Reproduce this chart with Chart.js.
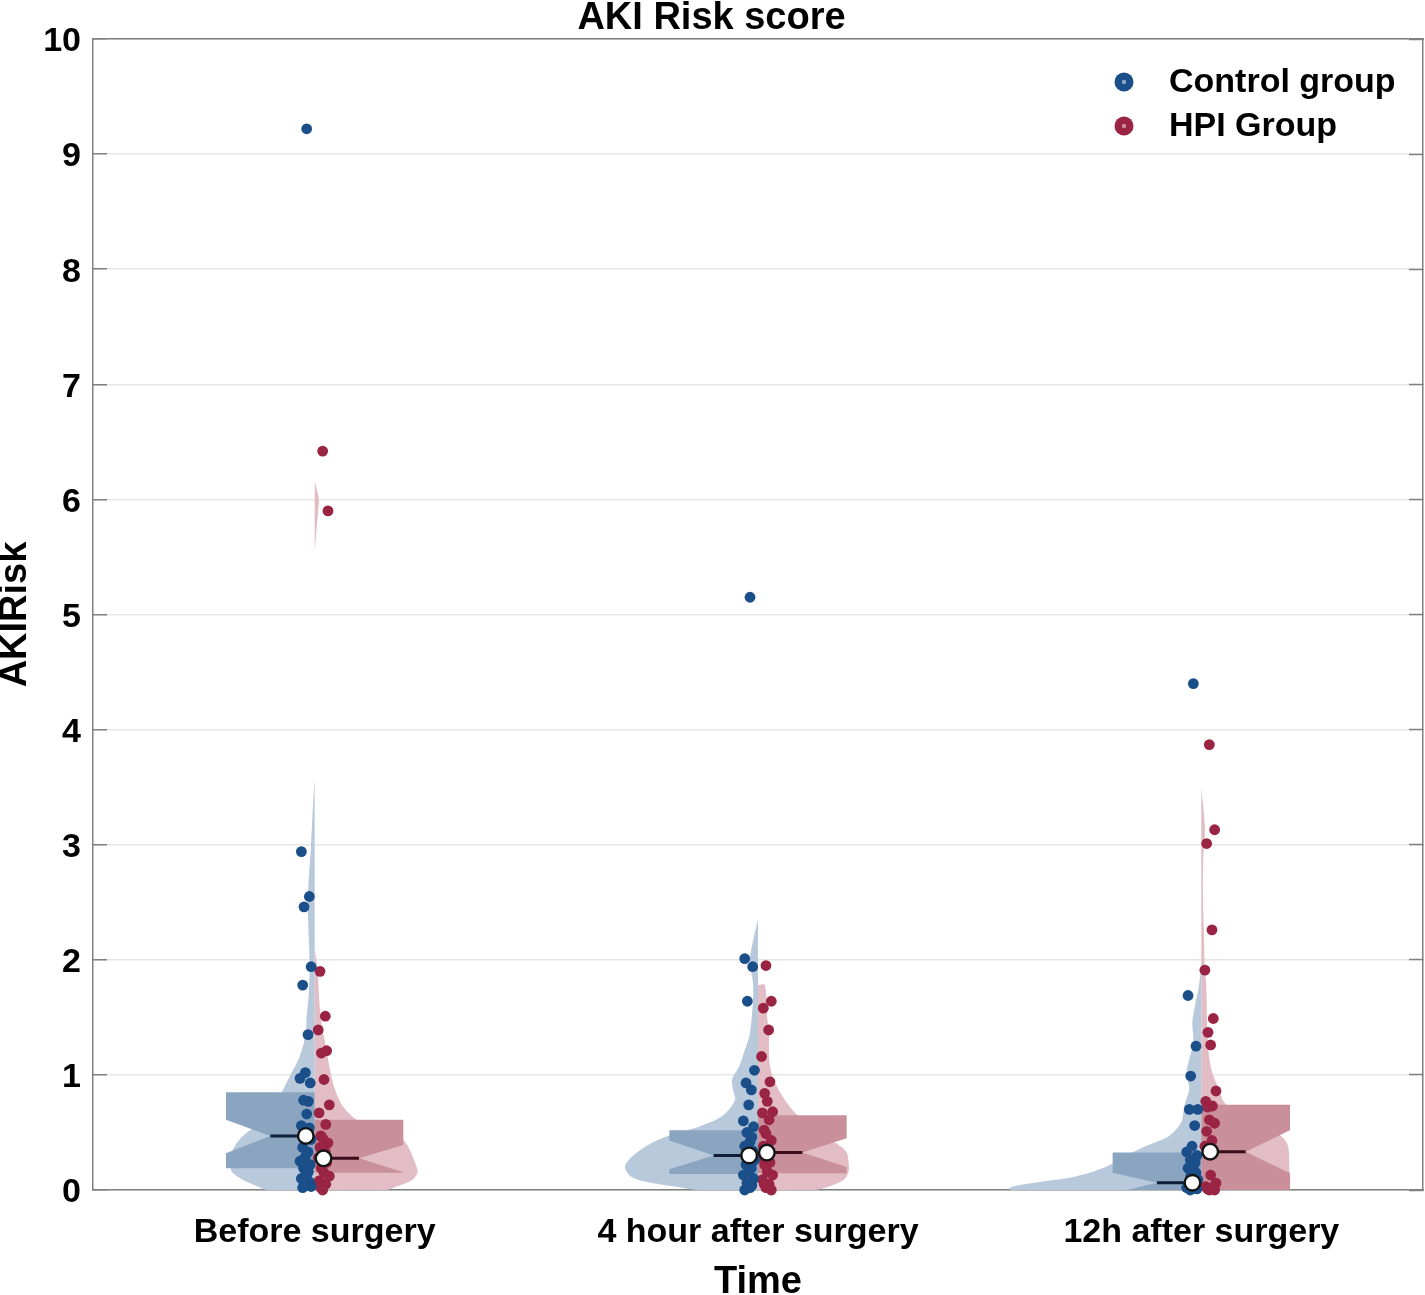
<!DOCTYPE html>
<html>
<head>
<meta charset="utf-8">
<script src="https://cdn.jsdelivr.net/npm/chart.js@4.4.1/dist/chart.umd.min.js"></script>
<style>
html,body{margin:0;padding:0;background:#fff;}
#wrap{width:1425px;height:1295px;position:relative;}
</style>
</head>
<body>
<div id="wrap"><canvas id="c"></canvas></div>
<script>
// ---------------- DATA ----------------
const CATS = ['Before surgery', '4 hour after surgery', '12h after surgery'];
const GROUPS = ['Control group', 'HPI Group'];
const Y_TICKS = [0,1,2,3,4,5,6,7,8,9,10];

// individual observations (AKI risk score)
const ctrlBefore = [9.22,2.94,2.55,2.46,1.94,1.78,1.35,1.02,0.97,0.93,0.78,0.77,0.66,0.56,0.54,0.47,0.44,0.37,0.33,0.29,0.25,0.22,0.19,0.16,0.13,0.10,0.07,0.05,0.03,0.02];
const hpiBefore  = [6.42,5.90,1.90,1.51,1.39,1.21,1.19,0.96,0.74,0.67,0.57,0.47,0.45,0.41,0.37,0.33,0.28,0.24,0.19,0.15,0.12,0.08,0.05,0.02,0.00];
const ctrl4h     = [5.15,2.01,1.94,1.64,1.04,0.93,0.87,0.74,0.60,0.55,0.50,0.46,0.42,0.38,0.34,0.30,0.26,0.22,0.19,0.16,0.13,0.10,0.06,0.04,0.02,0.00];
const hpi4h      = [1.95,1.64,1.58,1.39,1.16,0.94,0.84,0.77,0.68,0.67,0.61,0.52,0.49,0.43,0.38,0.33,0.28,0.24,0.22,0.16,0.13,0.09,0.05,0.05,0.02,0.00];
const ctrl12h    = [4.40,1.69,1.25,0.99,0.70,0.70,0.56,0.38,0.33,0.30,0.26,0.24,0.19,0.19,0.15,0.12,0.09,0.07,0.05,0.03,0.02,0.01,0.00];
const hpi12h     = [3.87,3.13,3.01,2.26,1.91,1.49,1.37,1.26,0.86,0.77,0.73,0.72,0.61,0.58,0.51,0.43,0.38,0.34,0.31,0.13,0.06,0.03,0.02,0.01,0.00,0.00];

// notched box statistics: [q1, notchLow, median, notchHigh, q3]
const ctrlBoxes = [[0.19,0.32,0.47,0.61,0.85],[0.14,0.18,0.30,0.43,0.52],[-0.03,-0.03,0.063,0.15,0.325]];
const hpiBoxes  = [[0.15,0.155,0.275,0.39,0.61],[0.145,0.20,0.325,0.45,0.65],[-0.03,0.145,0.333,0.52,0.74]];

// violin density profiles: levels (AKI value) and relative density (1 = widest violin)
const ctrlBeforeLv = [3.57,3.3,2.94,2.7,2.5,2.2,1.94,1.7,1.5,1.35,1.16,1.02,0.85,0.72,0.61,0.55,0.46,0.35,0.25,0.19,0.15,0.09,0.03,0];
const ctrlBeforeDn = [0,.010,.021,.031,.036,.031,.026,.031,.042,.047,.078,.120,.172,.224,.276,.313,.380,.427,.443,.438,.427,.375,.297,.250];
const hpiBeforeLv  = [2.1,1.9,1.74,1.5,1.3,1.2,1.02,0.88,0.73,0.61,0.5,0.44,0.35,0.2,0.15,0.09,0.03,0];
const hpiBeforeDn  = [0,.016,.021,.031,.052,.063,.083,.104,.146,.219,.365,.458,.495,.531,.536,.510,.427,.375];
const hpiBeforeHiLv = [6.16,6.0,5.9,5.75,5.54];
const hpiBeforeHiDn = [0,.022,.018,.010,0];
const ctrl4hLv = [2.35,2.2,2.0,1.8,1.65,1.36,1.22,1.07,0.96,0.87,0.78,0.64,0.55,0.49,0.41,0.29,0.2,0.11,0.06,0.02,0];
const ctrl4hDn = [0,.021,.042,.026,.026,.042,.068,.099,.135,.130,.120,.188,.307,.432,.552,.656,.693,.656,.552,.396,.307];
const hpi4hLv  = [1.78,1.51,1.36,1.22,1.07,0.93,0.78,0.67,0.58,0.43,0.37,0.32,0.2,0.145,0.09,0.03,0];
const hpi4hDn  = [.036,.047,.057,.057,.063,.089,.141,.193,.260,.385,.438,.464,.474,.469,.448,.370,.297];
const ctrl12hLv = [1.97,1.77,1.62,1.46,1.30,1.17,1.02,0.88,0.73,0.59,0.47,0.38,0.325,0.2,0.116,0.07,0.03,0.01,0];
const ctrl12hDn = [0,.0125,.031,.047,.042,.057,.078,.063,.089,.104,.167,.292,.359,.500,.660,.846,.984,1.0,.990];
const hpi12hLv  = [3.50,3.26,3.11,2.99,2.81,2.51,2.21,1.97,1.77,1.46,1.17,1.02,0.87,0.75,0.6,0.5,0.4,0.2,0];
const hpi12hDn  = [0,.014,.019,.014,.009,.009,.014,.017,.026,.030,.040,.057,.092,.125,.260,.391,.448,.458,.448];

// ---------------- STYLE / GEOMETRY ----------------
const FONT = '"Liberation Sans", Arial, Helvetica, sans-serif';
const C_BLUE = '#1b4f8a', C_RED = '#9a2444';
const V_BLUE = '#b9c9dc', V_RED = '#e3bdc6';
const B_BLUE = '#8ba5c1', B_RED = '#c9909c';
const M_BLUE = '#0f1e36', M_RED = '#3b0e1d';
const VMAX = 0.433;   // half width (x units) of density 1
const BOXW = 0.2;     // box half width
const MOFF = 0.02;    // median marker offset
const JITTER = [0.018,0.030,0.012,0.024,0.008,0.027,0.015,0.021,0.033,0.010,0.025,0.014];

function violinShape(center, side, lv, dn) {
  const top = {x:center, y:lv[0]}, bot = {x:center, y:lv[lv.length-1]};
  const arr = [top, {...top}];
  lv.forEach((y,i) => arr.push({x: center + side*dn[i]*VMAX, y}));
  arr.push(bot, {...bot}, {...top}, {...top});
  return arr;
}
function boxShape(center, side, s) {
  const [q1, nl, md, nh, q3] = s;
  const o = center + side*BOXW, h = center + side*BOXW/2;
  return [{x:center,y:q3},{x:o,y:q3},{x:o,y:nh},{x:h,y:md},{x:o,y:nl},{x:o,y:q1},{x:center,y:q1},{x:center,y:q3}];
}
function obsPoints(vals, center, side) {
  return vals.map((v,i) => ({x: center + side*JITTER[i % JITTER.length], y: v}));
}

const ctrlObs = [ctrlBefore, ctrl4h, ctrl12h];
const hpiObs = [hpiBefore, hpi4h, hpi12h];
const ctrlViol = [[ctrlBeforeLv, ctrlBeforeDn], [ctrl4hLv, ctrl4hDn], [ctrl12hLv, ctrl12hDn]];
const hpiViol = [[[hpiBeforeLv, hpiBeforeDn],[hpiBeforeHiLv, hpiBeforeHiDn]], [[hpi4hLv, hpi4hDn]], [[hpi12hLv, hpi12hDn]]];

const datasets = [];
function polyDS(data, color, order, tension) {
  return {data, showLine:true, fill:'shape', backgroundColor:color, borderColor:'rgba(0,0,0,0)', borderWidth:1,
          pointRadius:0, pointHoverRadius:0, tension, order, clip:0};
}
CATS.forEach((cat, k) => {
  const c = k + 1;
  datasets.push(polyDS(violinShape(c, -1, ctrlViol[k][0], ctrlViol[k][1]), V_BLUE, 50, 0.3));
  hpiViol[k].forEach(p => datasets.push(polyDS(violinShape(c, 1, p[0], p[1]), V_RED, 50, 0.3)));
  datasets.push(polyDS(boxShape(c, -1, ctrlBoxes[k]), B_BLUE, 40, 0));
  datasets.push(polyDS(boxShape(c, 1, hpiBoxes[k]), B_RED, 40, 0));
  [[-1, ctrlBoxes[k], M_BLUE], [1, hpiBoxes[k], M_RED]].forEach(([side, s, col]) => {
    datasets.push({data:[{x:c+side*BOXW/2, y:s[2]},{x:c+side*MOFF, y:s[2]}], showLine:true, fill:false,
      borderColor:col, borderWidth:3, pointRadius:0, order:30, clip:0});
  });
  datasets.push({data: obsPoints(ctrlObs[k], c, -1), backgroundColor:C_BLUE, borderColor:C_BLUE, borderWidth:0, pointRadius:5.4, order:20, clip:false});
  datasets.push({data: obsPoints(hpiObs[k], c, 1), backgroundColor:C_RED, borderColor:C_RED, borderWidth:0, pointRadius:5.4, order:20, clip:false});
  datasets.push({data:[{x:c-MOFF, y:ctrlBoxes[k][2]},{x:c+MOFF, y:hpiBoxes[k][2]}], backgroundColor:'#ffffff',
    borderColor:'#151515', borderWidth:2.4, pointRadius:7.8, order:10, clip:false});
});

const legendPlugin = {
  id: 'insideLegend',
  afterDraw(chart) {
    const ctx = chart.ctx, a = chart.chartArea;
    const items = [[GROUPS[0], C_BLUE, B_BLUE], [GROUPS[1], C_RED, B_RED]];
    ctx.save();
    items.forEach(([txt, col, light], i) => {
      const cx = a.right - 299, cy = a.top + 43 + i*44;
      ctx.beginPath(); ctx.arc(cx, cy, 9.5, 0, Math.PI*2); ctx.fillStyle = col; ctx.fill();
      ctx.beginPath(); ctx.arc(cx, cy, 2.2, 0, Math.PI*2); ctx.fillStyle = light; ctx.fill();
      ctx.fillStyle = '#000'; ctx.font = 'bold 34px ' + FONT; ctx.textAlign = 'left'; ctx.textBaseline = 'middle';
      ctx.fillText(txt, cx + 45, cy + 1);
    });
    ctx.restore();
  }
};

Chart.defaults.font.family = FONT;
new Chart(document.getElementById('c'), {
  type: 'scatter',
  data: { datasets },
  plugins: [legendPlugin],
  options: {
    responsive: true, maintainAspectRatio: false, animation: false, events: [],
    layout: { autoPadding: false, padding: {left:0, right:2, top:0, bottom:0} },
    plugins: {
      legend: {display:false}, tooltip: {enabled:false},
      title: { display:true, text:'AKI Risk score', color:'#000', font:{size:38, weight:'bold', lineHeight:1.0}, padding:{top:0, bottom:1} }
    },
    scales: {
      x: {
        type:'linear', position:'bottom', min:0.5, max:3.5,
        afterBuildTicks: s => { s.ticks = CATS.map((_, i) => ({value: i + 1})); },
        afterFit: s => { s.height = 105; },
        ticks: { callback: (v, i) => CATS[i], autoSkip:false, maxRotation:0, color:'#000', font:{size:34, weight:'bold'}, padding:14 },
        grid: { display:false },
        border: { display:true, color:'#808080', width:1.5 },
        title: { display:true, text:'Time', color:'#000', font:{size:38, weight:'bold', lineHeight:0.65}, padding:0 }
      },
      x2: {
        type:'linear', position:'top', min:0.5, max:3.5,
        afterFit: s => { s.height = 0; },
        ticks: { display:false }, grid: { display:false },
        border: { display:true, color:'#808080', width:1.5 }
      },
      y: {
        type:'linear', position:'left', min:0, max:10,
        afterBuildTicks: s => { s.ticks = Y_TICKS.map(v => ({value:v})); },
        afterFit: s => { s.width = 93; },
        ticks: { color:'#000', font:{size:34, weight:'bold', lineHeight:0.5}, padding:26, labelOffset:3 },
        grid: { color:'#e6e6e6', lineWidth:1.5, drawTicks:true, tickLength:-14, tickColor:'#808080', tickWidth:1.5 },
        border: { display:true, color:'#808080', width:1.5 },
        title: { display:true, text:'AKIRisk', color:'#000', font:{size:38, weight:'bold', lineHeight:0.8}, padding:0 }
      },
      y2: {
        type:'linear', position:'right', min:0, max:10,
        afterBuildTicks: s => { s.ticks = Y_TICKS.map(v => ({value:v})); },
        afterFit: s => { s.width = 0; },
        ticks: { display:false },
        grid: { drawOnChartArea:false, drawTicks:true, tickLength:-14, tickColor:'#808080', tickWidth:1.5 },
        border: { display:true, color:'#808080', width:1.5 }
      }
    }
  }
});
</script>
</body>
</html>
